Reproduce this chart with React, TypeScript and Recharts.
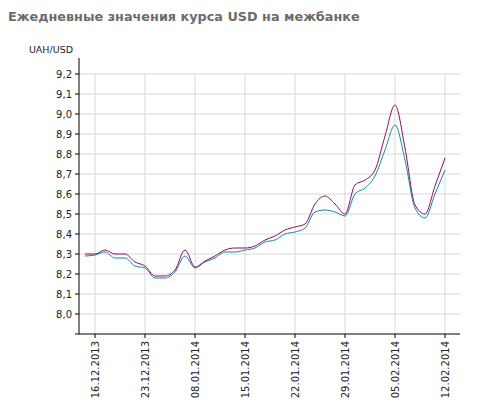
import React from "react";
import {
  LineChart,
  Line,
  XAxis,
  YAxis,
  CartesianGrid,
  ReferenceLine,
} from "recharts";

// trading days shown on the chart
const dates = [
  "13.12.2013", "16.12.2013", "17.12.2013", "18.12.2013", "19.12.2013", "20.12.2013",
  "23.12.2013", "24.12.2013", "25.12.2013", "26.12.2013", "27.12.2013",
  "08.01.2014", "09.01.2014", "10.01.2014", "13.01.2014", "14.01.2014",
  "15.01.2014", "16.01.2014", "17.01.2014", "20.01.2014", "21.01.2014",
  "22.01.2014", "23.01.2014", "24.01.2014", "27.01.2014", "28.01.2014",
  "29.01.2014", "30.01.2014", "31.01.2014", "03.02.2014", "04.02.2014",
  "05.02.2014", "06.02.2014", "07.02.2014", "10.02.2014", "11.02.2014",
  "12.02.2014",
];

const sellRate = [
  8.30, 8.30, 8.32, 8.30, 8.30, 8.26, 8.24, 8.19, 8.19, 8.22, 8.32,
  8.235, 8.265, 8.29, 8.32, 8.33, 8.33, 8.34, 8.37, 8.39, 8.42,
  8.435, 8.45, 8.55, 8.59, 8.55, 8.50, 8.645, 8.67, 8.72, 8.89,
  9.045, 8.83, 8.545, 8.50, 8.64, 8.78,
];

const buyRate = [
  8.29, 8.295, 8.31, 8.28, 8.28, 8.24, 8.23, 8.18, 8.18, 8.21, 8.29,
  8.23, 8.26, 8.28, 8.31, 8.31, 8.32, 8.33, 8.36, 8.37, 8.40,
  8.41, 8.43, 8.51, 8.52, 8.51, 8.49, 8.60, 8.63, 8.69, 8.82,
  8.945, 8.77, 8.53, 8.48, 8.60, 8.72,
];

const xTicks = [1, 6, 11, 16, 21, 26, 31, 36];
const yTicks = [7.9, 8.0, 8.1, 8.2, 8.3, 8.4, 8.5, 8.6, 8.7, 8.8, 8.9, 9.0, 9.1, 9.2];

const data = dates.map((d, i) => ({ i, date: d, sell: sellRate[i], buy: buyRate[i] }));

const FONT = "DejaVu Sans";

function DateTick(props: any) {
  const { x, y, payload } = props;
  return (
    <text
      x={x}
      y={y}
      transform={`rotate(-90 ${x} ${y})`}
      textAnchor="end"
      dy="0.35em"
      dx={-1}
      fontSize={10}
      fontFamily={FONT}
      fill="#222"
    >
      {dates[payload.value]}
    </text>
  );
}

export default function App() {
  return (
    <div style={{ position: "absolute", left: 0, top: 0, width: 479, height: 412, background: "#fff" }}>
      <div
        style={{
          position: "absolute", left: 8, top: 9,
          fontFamily: FONT, fontWeight: "bold", fontSize: 12.8, color: "#6b6b6b",
          whiteSpace: "nowrap",
        }}
      >
        Ежедневные значения курса USD на межбанке
      </div>
      <div
        style={{
          position: "absolute", right: 479 - 73, top: 44,
          fontFamily: FONT, fontSize: 9.5, color: "#222", whiteSpace: "nowrap",
        }}
      >
        UAH/USD
      </div>
      <LineChart
        width={479}
        height={412}
        data={data}
        margin={{ top: 58, right: 19, bottom: 8, left: 39 }}
      >
        <CartesianGrid vertical={false} stroke="#d9d9d9" horizontalValues={yTicks.slice(1)} />
        {xTicks.map((t) => (
          <ReferenceLine
            key={t}
            segment={[{ x: t, y: 7.9 }, { x: t, y: 9.2 }]}
            stroke="#d9d9d9"
          />
        ))}
        <XAxis
          dataKey="i"
          type="number"
          domain={[-0.6, 37.5]}
          ticks={xTicks}
          interval={0}
          height={70}
          tickSize={4}
          tick={<DateTick />}
          axisLine={{ stroke: "#000" }}
          tickLine={{ stroke: "#000" }}
        />
        <YAxis
          type="number"
          domain={[7.9, 9.28]}
          ticks={yTicks}
          interval={0}
          width={40}
          tickSize={4}
          tickMargin={3}
          tickFormatter={(v: number) => (v < 7.95 ? "" : v.toFixed(1).replace(".", ","))}
          tick={{ fontSize: 10, fontFamily: FONT, fill: "#222" }}
          axisLine={{ stroke: "#000" }}
          tickLine={{ stroke: "#000" }}
        />
        <Line
          dataKey="buy"
          type="monotone"
          stroke="#13899a"
          strokeWidth={1}
          dot={false}
          isAnimationActive={false}
        />
        <Line
          dataKey="sell"
          type="monotone"
          stroke="#8a0c6c"
          strokeWidth={1}
          dot={false}
          isAnimationActive={false}
        />
      </LineChart>
    </div>
  );
}
